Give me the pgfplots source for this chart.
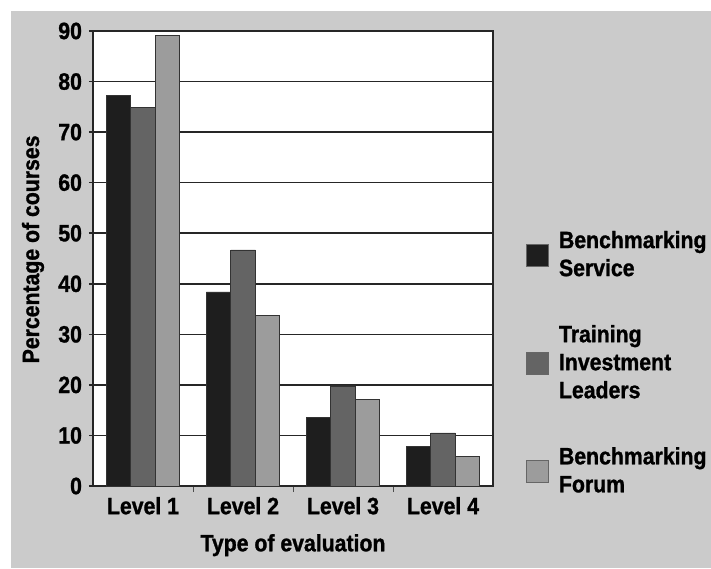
\documentclass[border=0pt]{standalone}
\usepackage{pgfplots}
\pgfplotsset{compat=1.18}
\usepackage{fontspec}
\setmainfont{Liberation Sans}[FakeStretch=0.9, BoldFeatures={FakeBold=1.2}]
\definecolor{bggray}{HTML}{CBCBCB}
\definecolor{bardark}{HTML}{1E1E1E}
\definecolor{barmid}{HTML}{646464}
\definecolor{barlight}{HTML}{9C9C9C}
\begin{document}
\begin{tikzpicture}[font=\fontsize{11.8}{14}\selectfont\bfseries]
% page frame: 1 px of the reference = 0.5pt
\path[use as bounding box] (0,0) rectangle (355.5pt,284pt);
\fill[bggray] (5.5pt,0) rectangle (355.5pt,278.5pt);
\begin{axis}[
    at={(46.5pt,41pt)}, anchor=south west,
    scale only axis, width=200pt, height=227.5pt,
    xmin=-0.5, xmax=3.5, ymin=0, ymax=90,
    ybar=0pt, bar width=0.245,
    axis background/.style={fill=white},
    axis line style={black!85, line width=0.6pt},
    tick pos=left,
    xtick={0,1,2,3},
    xticklabels={Level 1,Level 2,Level 3,Level 4},
    major x tick style={draw=none},
    minor xtick={0.5,1.5,2.5},
    minor x tick style={black!70, line width=0.5pt},
    ytick={0,10,...,90},
    /pgf/number format/assume math mode=true,
    y tick style={black!85, line width=0.8pt},
    tick align=outside, major tick length=2pt, minor tick length=3pt,
    ymajorgrids, grid style={black!85, line width=0.8pt},
    xlabel={Type of evaluation},
    ylabel={Percentage of courses},
    xlabel style={at={(axis description cs:0.5,-0.13)}, anchor=center},
    ylabel style={at={(axis description cs:-0.15,0.52)}, anchor=center, rotate=0},
    legend style={at={(axis description cs:1.0825,0.27)}, anchor=west,
        draw=none, fill=none, inner sep=0pt, row sep=19pt, column sep=3pt,
        cells={anchor=west, align=left}},
    sqleg/.style={legend image code/.code={%
        \path[fill=#1, draw=black!60, line width=0.3pt] (0pt,-5.5pt) rectangle (11pt,5.5pt);}},
    every axis plot/.append style={draw=black!80, line width=0.3pt},
]
\addplot[fill=bardark, sqleg=bardark] coordinates {(0,77.2) (1,38.4) (2,13.5) (3,7.8)};
\addplot[fill=barmid, sqleg=barmid] coordinates {(0,74.9) (1,46.7) (2,19.8) (3,10.5)};
\addplot[fill=barlight, sqleg=barlight] coordinates {(0,89.2) (1,33.7) (2,17.1) (3,5.9)};
\addlegendentry{Benchmarking\\Service}
\addlegendentry{Training\\Investment\\Leaders}
\addlegendentry{Benchmarking\\Forum}
\end{axis}
\end{tikzpicture}
\end{document}
